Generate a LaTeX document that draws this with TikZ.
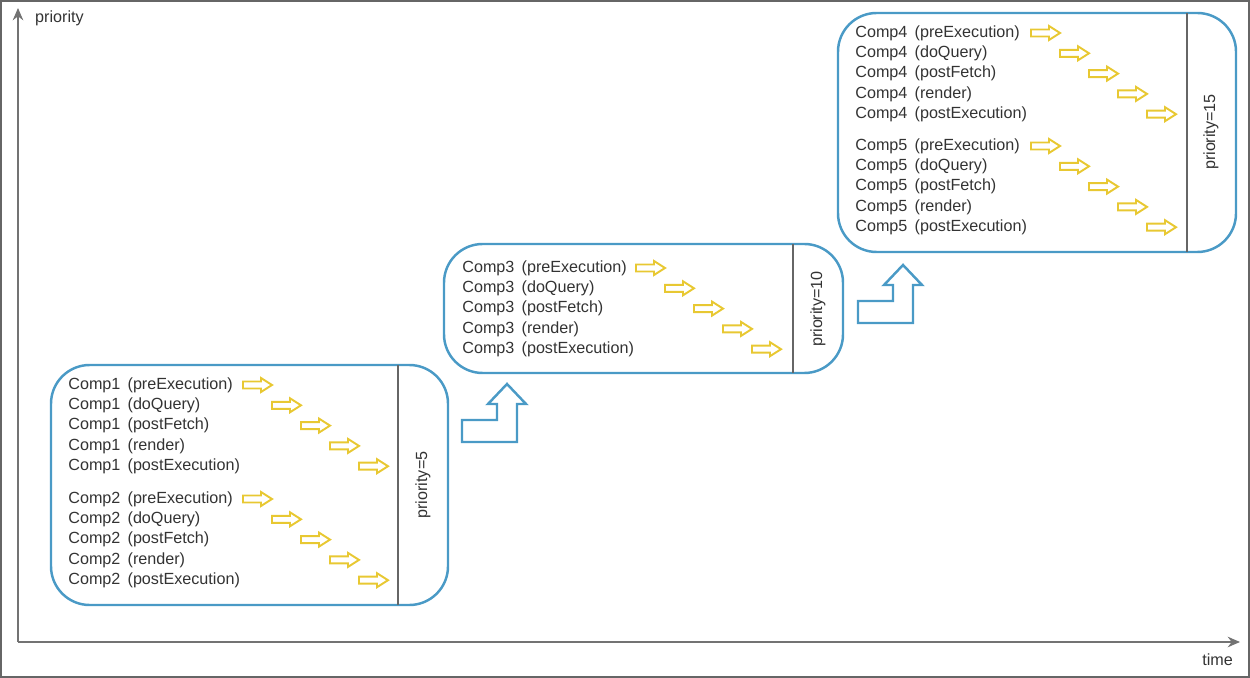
\documentclass[tikz,border=0pt]{standalone}
\usepackage{fontspec}
\setmainfont{Liberation Sans}
\usetikzlibrary{arrows.meta}
\definecolor{boxblue}{HTML}{4A9AC6}
\definecolor{arrowyel}{HTML}{E8C832}
\tikzset{
  phase/.style = {draw=boxblue, line width=1.4pt, rounded corners=22},
  steptext/.style = {anchor=west, inner sep=0pt, font=\fontsize{9.2}{11}\selectfont, text=black!80},
  prio/.style = {rotate=90, font=\fontsize{9.2}{11}\selectfont, text=black!80},
  fwd/.pic = {\draw[arrowyel, line width=1.1pt, line join=miter]
      (0,-3.5) -- (18,-3.5) -- (18,-7) -- (29,0) -- (18,7) -- (18,3.5) -- (0,3.5) -- cycle;},
}
\newcommand\stepblock[4]{% x of text, first y, x of first arrow, comp name
  \foreach \lbl [count=\i from 0] in {preExecution,doQuery,postFetch,render,postExecution} {
    \node[steptext] (#4-\i) at (#1, #2+20.3*\i) {#4\, (\lbl)};
    \pic at (#3+29*\i, #2+20.3*\i) {fwd};
  }}
\begin{document}
\begin{tikzpicture}[x=0.02cm, y=-0.02cm]
    \useasboundingbox (0,0) rectangle (1250,678);
    \draw[black!60, line width=0.8pt] (1,1) rectangle (1249,677);
    %% axes
    \draw[black!55, line width=1pt, -{Stealth[length=7pt,width=6pt]}] (18,642) -- (18,8);
    \draw[black!55, line width=1pt, -{Stealth[length=7pt,width=6pt]}] (18,642) -- (1240,642);
    \node[anchor=west, font=\fontsize{9.2}{11}\selectfont, text=black!80] (yl) at (29,18) {priority};
    \node[anchor=east, font=\fontsize{9.2}{11}\selectfont, text=black!80] (xl) at (1239,660) {time};

    %% first phase
    \draw[phase] (51,365) rectangle (448,605);
    \draw[black!60, line width=1pt] (398,365) -- (398,605);
    \node[prio] (p5) at (423,485) {priority=5};
    \stepblock{68}{385}{243}{Comp1}
    \stepblock{68}{499}{243}{Comp2}

    %% second phase
    \draw[phase] (444,244) rectangle (843,373);
    \draw[black!60, line width=1pt] (793,244) -- (793,373);
    \node[prio] (p10) at (818,309) {priority=10};
    \stepblock{462}{268}{636}{Comp3}

    %% third phase
    \draw[phase] (838,13) rectangle (1236,252);
    \draw[black!60, line width=1pt] (1187,13) -- (1187,252);
    \node[prio] (p15) at (1211,132) {priority=15};
    \stepblock{855}{33}{1031}{Comp4}
    \stepblock{855}{146}{1031}{Comp5}

    %% level-up arrows
    \foreach \x/\y in {462/442, 858/323} {
      \draw[boxblue, line width=1.4pt, line join=miter]
        (\x,\y) -- (\x,\y-22) -- (\x+35,\y-22) -- (\x+35,\y-38) -- (\x+26,\y-38)
        -- (\x+45,\y-58) -- (\x+64,\y-38) -- (\x+55,\y-38) -- (\x+55,\y) -- cycle; }
\end{tikzpicture}
\end{document}
